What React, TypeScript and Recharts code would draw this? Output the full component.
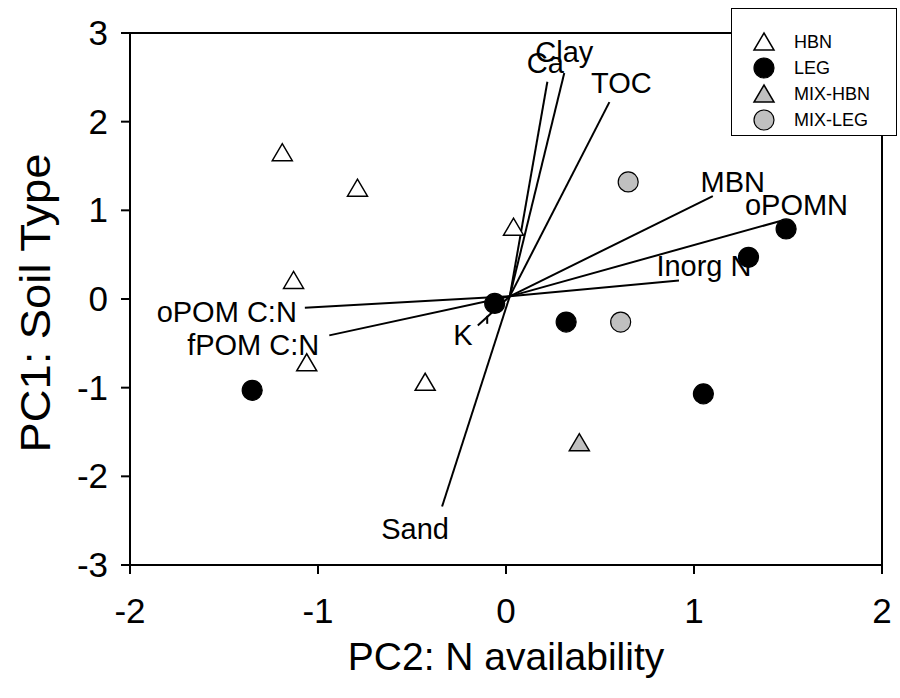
import React from "react";
import { ScatterChart, Scatter, XAxis, YAxis, ReferenceLine } from "recharts";

// sample scores (PC2 on x, PC1 on y)
const HBN_X = [-1.19, -0.79, 0.04, -1.13, -1.06, -0.43];
const HBN_Y = [1.65, 1.25, 0.81, 0.21, -0.72, -0.94];
const LEG_X = [-1.35, -0.06, 1.49, 1.29, 0.32, 1.05];
const LEG_Y = [-1.03, -0.05, 0.79, 0.47, -0.26, -1.07];
const MIXHBN_X = [0.39];
const MIXHBN_Y = [-1.62];
const MIXLEG_X = [0.65, 0.61];
const MIXLEG_Y = [1.32, -0.26];

// loading vectors
const VEC_NAMES = ["Clay", "Ca", "TOC", "MBN", "oPOMN", "Inorg N", "oPOM C:N", "fPOM C:N", "K", "Sand"];
const VEC_X = [0.31, 0.22, 0.55, 1.1, 1.46, 0.92, -1.07, -0.94, -0.15, -0.34];
const VEC_Y = [2.55, 2.45, 2.22, 1.16, 0.88, 0.21, -0.1, -0.41, -0.3, -2.34];
const ORIGIN_X = 0.02;
const ORIGIN_Y = 0.03;
// short leader next to K
const STUB_X = [-0.1, -0.1];
const STUB_Y = [-0.19, -0.28];

const X_TICKS = [-2, -1, 0, 1, 2];
const Y_TICKS = [-3, -2, -1, 0, 1, 2, 3];

// label placement relative to vector tip (px)
const LABEL_POS: Record<string, { dx: number; dy: number; anchor: "start" | "middle" | "end" }> = {
  Clay: { dx: 0, dy: -11, anchor: "middle" },
  Ca: { dx: -2, dy: -9, anchor: "middle" },
  TOC: { dx: 12, dy: -9, anchor: "middle" },
  MBN: { dx: 20, dy: -4, anchor: "middle" },
  oPOMN: { dx: 16, dy: -6, anchor: "middle" },
  "Inorg N": { dx: 25, dy: -4, anchor: "middle" },
  "oPOM C:N": { dx: -8, dy: 14, anchor: "end" },
  "fPOM C:N": { dx: -10, dy: 20, anchor: "end" },
  K: { dx: -15, dy: 19, anchor: "middle" },
  Sand: { dx: -27, dy: 33, anchor: "middle" },
};

const GRAY = "#c0c0c0";
const FONT = "'Liberation Sans', Arial, Helvetica, sans-serif";

const zip = (xs: number[], ys: number[]) => xs.map((x, i) => ({ x, y: ys[i] }));

const Triangle = ({ cx, cy, fill }: any) => (
  <polygon
    points={`${cx - 10},${cy + 8} ${cx + 10},${cy + 8} ${cx},${cy - 9}`}
    fill={fill}
    stroke="#000"
    strokeWidth={1.5}
  />
);
const Dot = ({ cx, cy, fill }: any) => (
  <circle cx={cx} cy={cy} r={10} fill={fill} stroke="#000" strokeWidth={1.2} />
);

const VecTip = (p: any) => {
  const name = p.payload?.name;
  if (!name) return <g />;
  const pos = LABEL_POS[name];
  return (
    <text x={p.cx + pos.dx} y={p.cy + pos.dy} textAnchor={pos.anchor} fontSize={29} fill="#000">
      {name}
    </text>
  );
};

const XTick = ({ x, y, payload }: any) => (
  <text x={x} y={y + 47} textAnchor="middle" fontSize={35} fill="#000">
    {payload.value}
  </text>
);
const YTick = ({ x, y, payload }: any) => (
  <text x={x - 11} y={y + 12} textAnchor="end" fontSize={35} fill="#000">
    {payload.value}
  </text>
);

const legendItems = [
  { name: "HBN", shape: "tri", fill: "#fff" },
  { name: "LEG", shape: "dot", fill: "#000" },
  { name: "MIX-HBN", shape: "tri", fill: GRAY },
  { name: "MIX-LEG", shape: "dot", fill: GRAY },
];

const LegendBox = () => (
  <div
    style={{
      position: "absolute",
      left: 731,
      top: 8,
      width: 166,
      height: 128,
      border: "1px solid #000",
      background: "#fff",
      boxSizing: "border-box",
      paddingTop: 20,
      fontFamily: FONT,
    }}
  >
    {legendItems.map((it) => (
      <div key={it.name} style={{ display: "flex", alignItems: "center", height: 26 }}>
        <svg width={62} height={26}>
          {it.shape === "tri" ? (
            <polygon points="22,21 42,21 32,4" fill={it.fill} stroke="#000" strokeWidth={1.5} />
          ) : (
            <circle cx={32} cy={13} r={10} fill={it.fill} stroke="#000" strokeWidth={1.2} />
          )}
        </svg>
        <span style={{ fontSize: 18, color: "#000" }}>{it.name}</span>
      </div>
    ))}
  </div>
);

export default function App() {
  return (
    <div style={{ position: "absolute", left: 0, top: 0, width: 900, height: 698, background: "#fff", fontFamily: FONT }}>
      <ScatterChart width={900} height={698} margin={{ top: 33, right: 18, left: 0, bottom: 0 }}>
        <XAxis
          type="number"
          dataKey="x"
          domain={[-2, 2]}
          ticks={X_TICKS}
          height={133}
          tickSize={9}
          tick={<XTick />}
          axisLine={{ stroke: "#000", strokeWidth: 2 }}
          tickLine={{ stroke: "#000", strokeWidth: 2 }}
          allowDataOverflow
          label={({ viewBox }: any) => (
            <text x={viewBox.x + viewBox.width / 2} y={viewBox.y + 105} textAnchor="middle" fontSize={39} fill="#000">
              PC2: N availability
            </text>
          )}
        />
        <YAxis
          type="number"
          dataKey="y"
          domain={[-3, 3]}
          ticks={Y_TICKS}
          width={130}
          tickSize={9}
          tick={<YTick />}
          axisLine={{ stroke: "#000", strokeWidth: 2 }}
          tickLine={{ stroke: "#000", strokeWidth: 2 }}
          allowDataOverflow
          label={({ viewBox }: any) => {
            const cy = viewBox.y + viewBox.height / 2 + 4;
            return (
              <text
                x={0}
                y={0}
                transform={`translate(50, ${cy}) rotate(-90) scale(1.08, 1)`}
                textAnchor="middle"
                fontSize={42}
                fill="#000"
              >
                PC1: Soil Type
              </text>
            );
          }}
        />
        <ReferenceLine y={3} stroke="#000" strokeWidth={2} />
        <ReferenceLine x={2} stroke="#000" strokeWidth={2} />

        {VEC_NAMES.map((name, i) => (
          <Scatter
            key={name}
            data={[
              { x: ORIGIN_X, y: ORIGIN_Y },
              { x: VEC_X[i], y: VEC_Y[i], name },
            ]}
            line={{ stroke: "#000", strokeWidth: 2 }}
            shape={<VecTip />}
            isAnimationActive={false}
            legendType="none"
          />
        ))}
        <Scatter
          data={zip(STUB_X, STUB_Y)}
          line={{ stroke: "#000", strokeWidth: 2 }}
          shape={() => <g />}
          isAnimationActive={false}
          legendType="none"
        />

        <Scatter name="HBN" data={zip(HBN_X, HBN_Y)} fill="#fff" shape={<Triangle />} isAnimationActive={false} />
        <Scatter name="LEG" data={zip(LEG_X, LEG_Y)} fill="#000" shape={<Dot />} isAnimationActive={false} />
        <Scatter name="MIX-HBN" data={zip(MIXHBN_X, MIXHBN_Y)} fill={GRAY} shape={<Triangle />} isAnimationActive={false} />
        <Scatter name="MIX-LEG" data={zip(MIXLEG_X, MIXLEG_Y)} fill={GRAY} shape={<Dot />} isAnimationActive={false} />
      </ScatterChart>
      <LegendBox />
    </div>
  );
}
